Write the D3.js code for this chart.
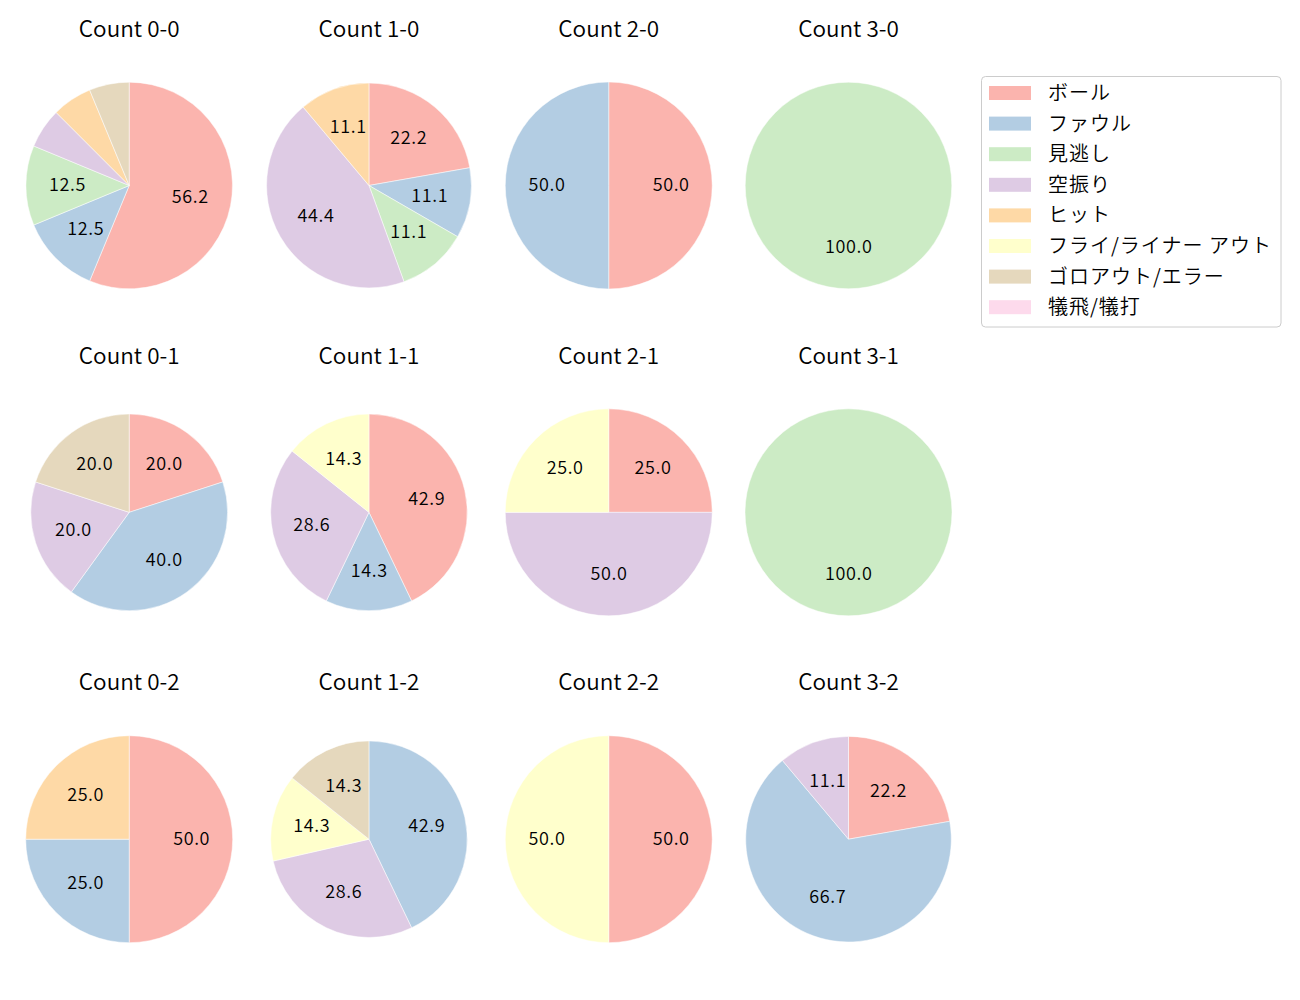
<!DOCTYPE html>
<html>
<head>
<meta charset="utf-8">
<script src="https://cdn.jsdelivr.net/npm/d3@7"></script>
<style>
  html, body { margin: 0; padding: 0; background: #fff; }
  svg { display: block; }
  text { font-family: "Noto Sans CJK JP", "Noto Sans", sans-serif; fill: #000; font-weight: 350; }
</style>
</head>
<body>
<svg id="chart" width="1300" height="1000"></svg>
<script>
// ---- data ----
const categories = ["ボール", "ファウル", "見逃し", "空振り", "ヒット", "フライ/ライナー アウト", "ゴロアウト/エラー", "犠飛/犠打"];
const colors = ["#fbb4ae", "#b3cde3", "#ccebc5", "#decbe4", "#fed9a6", "#ffffcc", "#e5d8bd", "#fddaec"];
const balls = [0, 1, 2, 3];
const strikes = [0, 1, 2];
// pitch counts per category, one array per panel (row = strikes, col = balls)
const count_0_0 = [9, 2, 2, 1, 1, 0, 1, 0];
const count_1_0 = [2, 1, 1, 4, 1, 0, 0, 0];
const count_2_0 = [1, 1, 0, 0, 0, 0, 0, 0];
const count_3_0 = [0, 0, 1, 0, 0, 0, 0, 0];
const count_0_1 = [1, 2, 0, 1, 0, 0, 1, 0];
const count_1_1 = [3, 1, 0, 2, 0, 1, 0, 0];
const count_2_1 = [1, 0, 0, 2, 0, 1, 0, 0];
const count_3_1 = [0, 0, 1, 0, 0, 0, 0, 0];
const count_0_2 = [2, 1, 0, 0, 1, 0, 0, 0];
const count_1_2 = [0, 3, 0, 2, 0, 1, 1, 0];
const count_2_2 = [1, 0, 0, 0, 0, 1, 0, 0];
const count_3_2 = [2, 6, 0, 1, 0, 0, 0, 0];
const panelValues = [
  [count_0_0, count_1_0, count_2_0, count_3_0],
  [count_0_1, count_1_1, count_2_1, count_3_1],
  [count_0_2, count_1_2, count_2_2, count_3_2]
];

// ---- layout ----
const colX = d3.scaleLinear().domain([0, 3]).range([129.2, 848.5]);
const rowY = d3.scaleLinear().domain([0, 2]).range([185.5, 839.2]);
const radii = [
  [103.3, 102.4, 103.5, 103.3],
  [98.4, 98.3, 103.5, 103.5],
  [103.5, 98.3, 103.5, 102.8]
];

// percent formatting like printf "%.1f" (round half to even on exact ties)
function fmtPct(p) {
  const x = p * 10;
  const f = Math.floor(x);
  let r;
  if (x - f === 0.5) r = (f % 2 === 0) ? f : f + 1;
  else r = Math.round(x);
  return (r / 10).toFixed(1);
}

const svg = d3.select("#chart");
svg.append("rect").attr("width", 1300).attr("height", 1000).attr("fill", "#fff");

const color = d3.scaleOrdinal().domain(categories).range(colors);
const pie = d3.pie().sort(null).value(d => d.value).startAngle(0).endAngle(2 * Math.PI);

strikes.forEach((s, ri) => {
  balls.forEach((b, ci) => {
    const vals = panelValues[ri][ci];
    const total = d3.sum(vals);
    const r = radii[ri][ci];
    const cx = colX(ci), cy = rowY(ri);
    const g = svg.append("g").attr("transform", `translate(${cx},${cy})`);
    const data = categories.map((c, i) => ({ cat: c, value: vals[i] })).filter(d => d.value > 0);
    const arcs = pie(data);
    const arc = d3.arc().innerRadius(0).outerRadius(r);
    g.selectAll("path.slice").data(arcs).join("path")
      .attr("class", "slice")
      .attr("d", arc)
      .attr("fill", d => color(d.data.cat))
      .attr("stroke", "#fff")
      .attr("stroke-width", 0.5);
    const labelArc = d3.arc().innerRadius(0.6 * r).outerRadius(0.6 * r);
    g.selectAll("text.pct").data(arcs.filter(d => d.data.value / total * 100 >= 10)).join("text")
      .attr("class", "pct")
      .attr("transform", d => { const c = labelArc.centroid(d); return `translate(${c[0] + 0.3},${c[1] - 2.5})`; })
      .attr("text-anchor", "middle")
      .attr("dominant-baseline", "central")
      .attr("font-size", 18)
      .attr("letter-spacing", 0.6)
      .text(d => fmtPct(100 * d.data.value / total));
    svg.append("text")
      .attr("x", cx)
      .attr("y", cy - 148.8)
      .attr("text-anchor", "middle")
      .attr("font-size", 22.5)
      .text(`Count ${b}-${s}`);
  });
});

// ---- legend ----
const lg = svg.append("g");
lg.append("rect")
  .attr("x", 981.5).attr("y", 76.5)
  .attr("width", 299.5).attr("height", 250.5)
  .attr("rx", 4).attr("ry", 4)
  .attr("fill", "#fff").attr("fill-opacity", 0.8)
  .attr("stroke", "#cccccc").attr("stroke-width", 1);
const rowScale = d3.scaleLinear().domain([0, 7]).range([93, 307.2]);
categories.forEach((c, i) => {
  const y = rowScale(i);
  lg.append("rect")
    .attr("x", 989).attr("y", y - 7)
    .attr("width", 42).attr("height", 14)
    .attr("fill", color(c));
  lg.append("text")
    .attr("x", 1048).attr("y", y - 1.5)
    .attr("dominant-baseline", "central")
    .attr("font-size", 20)
    .attr("letter-spacing", 1)
    .text(c);
});
</script>
</body>
</html>
